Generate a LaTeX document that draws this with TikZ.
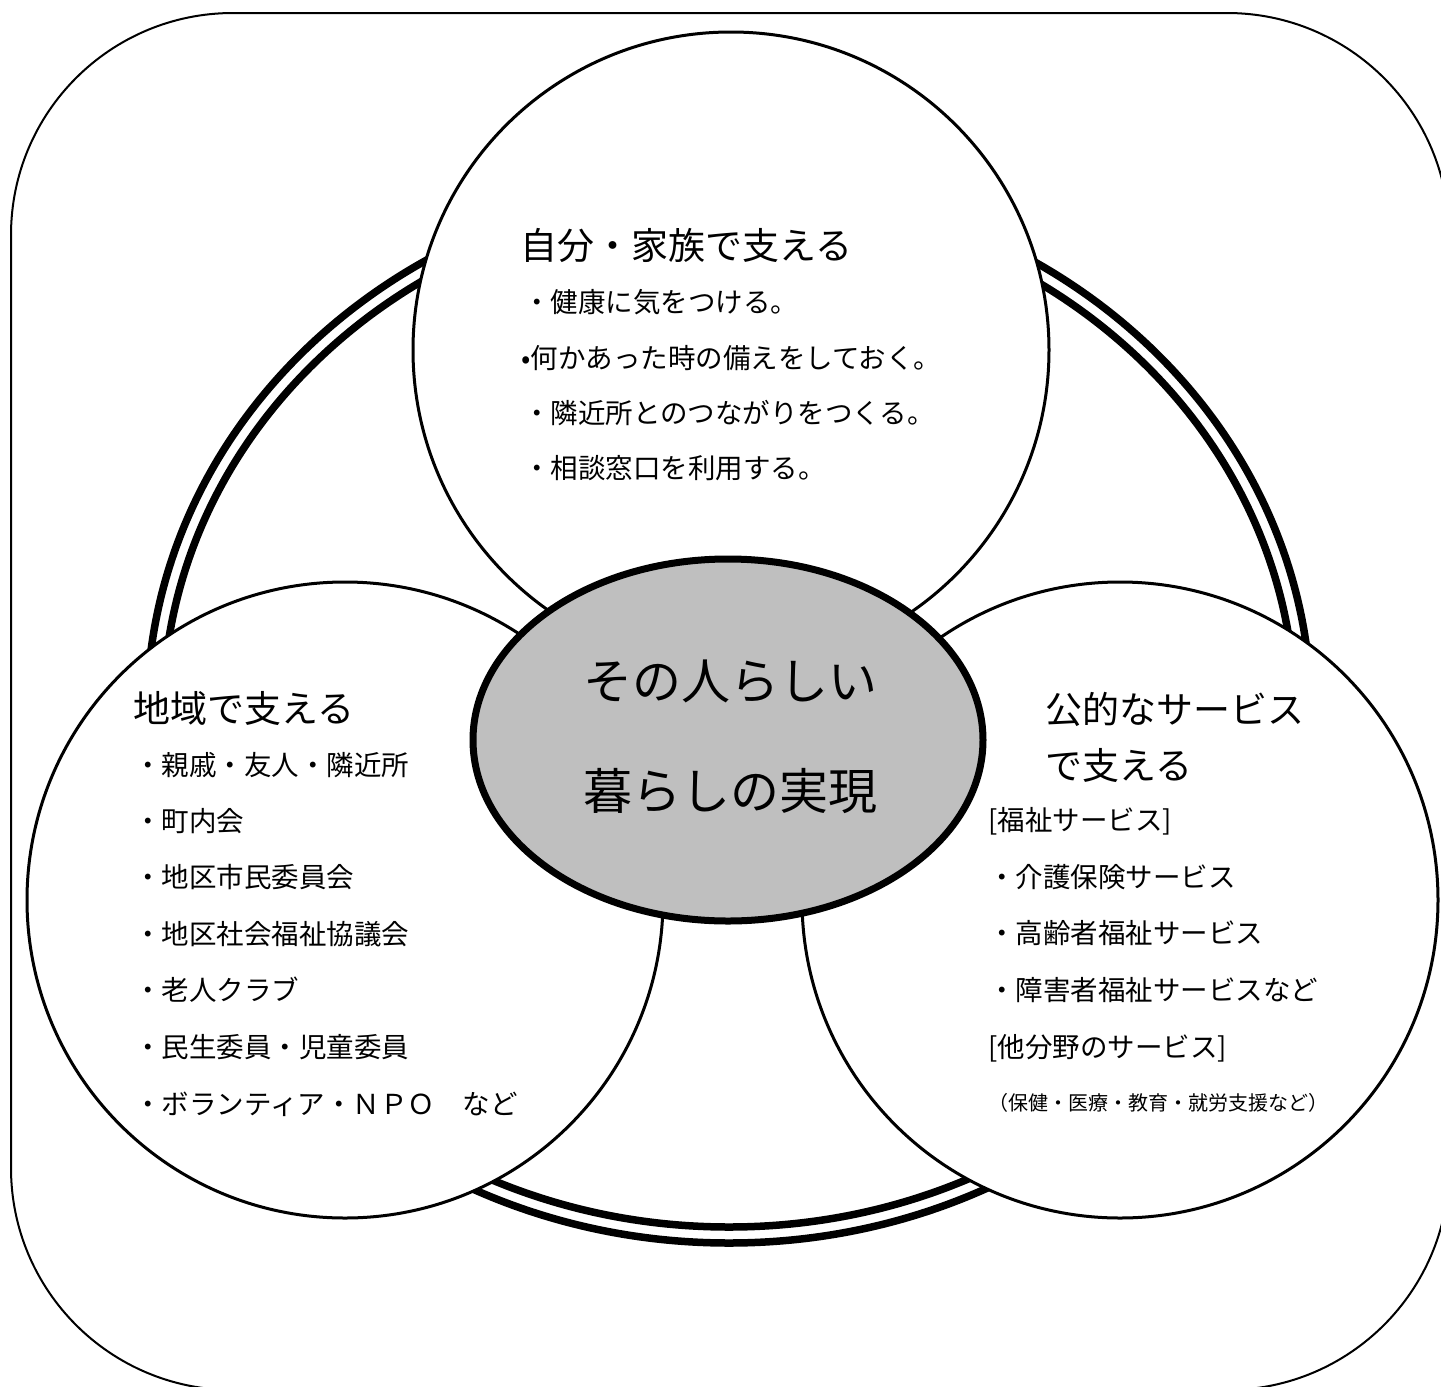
\documentclass[tikz,border=0pt]{standalone}
\usepackage{fontspec}
\setmainfont{Noto Sans CJK JP}
\usetikzlibrary{shapes.geometric}
\definecolor{centergray}{RGB}{191,191,191}
\tikzset{
  frame/.style={draw, line width=2pt, rounded corners=222pt},
  ringline/.style={draw, line width=7.5pt},
  bubble/.style={circle, draw, fill=white, line width=3pt, minimum size=636pt, inner sep=0pt},
  core/.style={ellipse, draw, fill=centergray, line width=7pt, minimum width=510pt, minimum height=362pt, inner sep=0pt},
  titletext/.style={anchor=base west, inner sep=0pt, font=\fontsize{37pt}{40pt}\selectfont},
  itemtext/.style={anchor=base west, inner sep=0pt, font=\fontsize{27.5pt}{30pt}\selectfont},
  smalltext/.style={anchor=base west, inner sep=0pt, font=\fontsize{20pt}{24pt}\selectfont},
  bigtext/.style={anchor=base, inner sep=0pt, font=\fontsize{49pt}{52pt}\selectfont}
}
\begin{document}
\begin{tikzpicture}[x=1pt,y=-1pt]
\useasboundingbox (0,0) rectangle (1441,1387);
\clip (0,0) rectangle (1441,1387);
% outer frame
\draw[frame] (11,13) rectangle (1449,1390);
% double ring
\draw[ringline] (729,713) ellipse [x radius=582pt, y radius=530pt];
\draw[ringline] (729,713) ellipse [x radius=566pt, y radius=514pt];
% three circles
\node[bubble] (self) at (731,350) {};
\node[bubble] (community) at (345,900) {};
\node[bubble] (public) at (1120,900) {};
% centre
\node[core] (centre) at (728,740) {};
% centre text
\node[bigtext] (c1) at (730,699) {その人らしい};
\node[bigtext] (c2) at (730,809) {暮らしの実現};
% top circle text
\node[titletext] (t0) at (520,259) {自分・家族で支える};
\node[itemtext] (t1) at (523,312) {・健康に気をつける。};
\node[itemtext] (t2) at (521,368) {•何かあった時の備えをしておく。};
\node[itemtext] (t3) at (523,423) {・隣近所とのつながりをつくる。};
\node[itemtext] (t4) at (523,478) {・相談窓口を利用する。};
% left circle text
\node[titletext] (l0) at (133,722) {地域で支える};
\node[itemtext] (l1) at (134,775) {・親戚・友人・隣近所};
\node[itemtext] (l2) at (134,831) {・町内会};
\node[itemtext] (l3) at (134,887) {・地区市民委員会};
\node[itemtext] (l4) at (134,944) {・地区社会福祉協議会};
\node[itemtext] (l5) at (134,1000) {・老人クラブ};
\node[itemtext] (l6) at (134,1057) {・民生委員・児童委員};
\node[itemtext] (l7) at (134,1114) {・ボランティア・ＮＰＯ　など};
% right circle text
\node[titletext] (r0) at (1045,723) {公的なサービス};
\node[titletext] (r1) at (1045,779) {で支える};
\node[itemtext] (r2) at (988,830) {[福祉サービス]};
\node[itemtext] (r3) at (988,887) {・介護保険サービス};
\node[itemtext] (r4) at (988,943) {・高齢者福祉サービス};
\node[itemtext] (r5) at (988,1000) {・障害者福祉サービスなど};
\node[itemtext] (r6) at (988,1057) {[他分野のサービス]};
\node[smalltext] (r7) at (988,1110) {（保健・医療・教育・就労支援など）};
\end{tikzpicture}
\end{document}
